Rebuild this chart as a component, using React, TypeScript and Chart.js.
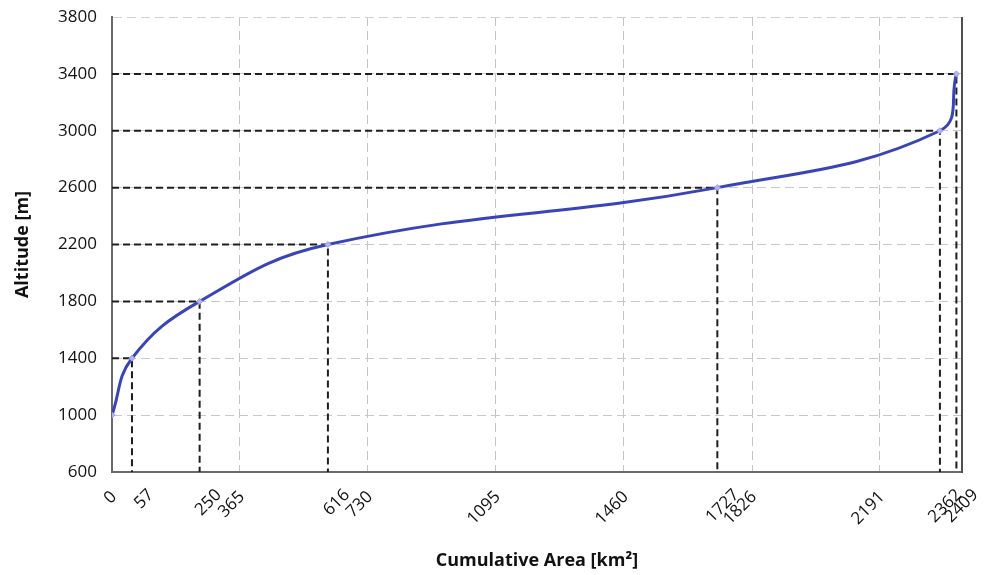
import React, { useEffect, useRef } from 'react';
import { Chart, registerables } from 'chart.js';

Chart.register(...registerables);

// ---- data ----
const areas = [0, 57, 250, 616, 1727, 2362, 2409];
const altitudes = [1000, 1400, 1800, 2200, 2600, 3000, 3400];
const xAxisTicks = [0, 365, 730, 1095, 1460, 1826, 2191];
const xPointTicks = [57, 250, 616, 1727, 2362, 2409];
const xGridValues = [365, 730, 1095, 1460, 1826, 2191];
const yTickValues = [600, 1000, 1400, 1800, 2200, 2600, 3000, 3400, 3800];
const xMin = 0;
const xMax = 2425;
const yMin = 600;
const yMax = 3800;

const frameBorder = {
  id: 'frameBorder',
  afterDatasetsDraw(chart: any) {
    const { ctx, chartArea } = chart;
    ctx.save();
    ctx.strokeStyle = '#505050';
    ctx.lineWidth = 2;
    ctx.beginPath();
    ctx.moveTo(chartArea.right, chartArea.top);
    ctx.lineTo(chartArea.right, chartArea.bottom + 1);
    ctx.stroke();
    ctx.restore();
  },
};

export default function App() {
  const canvasRef = useRef<HTMLCanvasElement | null>(null);

  useEffect(() => {
    document.body.style.margin = '0';
    const canvas = canvasRef.current;
    if (!canvas) return;

    const curve = areas.map((a, i) => ({ x: a, y: altitudes[i] }));
    const guides = areas.slice(1).map((a, k) => {
      const alt = altitudes[k + 1];
      return {
        type: 'scatter' as const,
        data: [
          { x: xMin, y: alt },
          { x: a, y: alt },
          { x: a, y: yMin },
        ],
        showLine: true,
        borderColor: '#1e1e1e',
        borderWidth: 2,
        borderDash: [7, 4],
        pointRadius: 0,
        tension: 0,
        order: 2,
      };
    });

    const tickFont = { family: 'Open Sans', size: 17 };

    const chart = new Chart(canvas, {
      type: 'scatter',
      data: {
        datasets: [
          {
            data: curve,
            showLine: true,
            borderColor: '#3a44b6',
            borderWidth: 3,
            tension: 0.42,
            pointStyle: 'rectRot',
            pointRadius: 3,
            pointBackgroundColor: '#b4b4f0',
            pointBorderColor: '#9a9ae6',
            pointBorderWidth: 1,
            order: 0,
          } as any,
          ...(guides as any[]),
        ],
      },
      options: {
        animation: false,
        responsive: false,
        maintainAspectRatio: false,
        layout: { padding: { top: 17, right: 27, left: 0, bottom: 0 } },
        plugins: {
          legend: { display: false },
          tooltip: { enabled: false },
        },
        scales: {
          xp: {
            type: 'linear',
            position: 'bottom',
            weight: -1,
            min: xMin,
            max: xMax,
            afterBuildTicks: (scale: any) => {
              scale.ticks = xPointTicks.map((v) => ({ value: v }));
            },
            afterFit: (scale: any) => {
              scale.height = 0;
              scale._computeLabelArea = () => undefined;
            },
            ticks: {
              autoSkip: false,
              minRotation: 45,
              maxRotation: 45,
              padding: 13,
              labelOffset: 19,
              color: '#111',
              font: tickFont,
              callback: (v: any) => String(v),
            },
            grid: { display: false, drawTicks: false },
            border: { display: false },
          },
          x: {
            type: 'linear',
            position: 'bottom',
            weight: 0,
            min: xMin,
            max: xMax,
            afterBuildTicks: (scale: any) => {
              scale.ticks = xAxisTicks.map((v) => ({ value: v }));
            },
            afterFit: (scale: any) => {
              scale.height = 103;
            },
            ticks: {
              autoSkip: false,
              minRotation: 45,
              maxRotation: 45,
              padding: 15,
              labelOffset: 2,
              color: '#111',
              font: tickFont,
              callback: (v: any) => String(v),
            },
            grid: {
              drawTicks: false,
              color: (ctx: any) =>
                ctx.tick && xGridValues.includes(ctx.tick.value) ? '#c4c4c4' : 'rgba(0,0,0,0)',
              lineWidth: 1,
            },
            border: { color: '#6a6a6a', width: 2, dash: [9, 5] },
            title: {
              display: true,
              text: 'Cumulative Area [km²]',
              color: '#111',
              font: { family: 'Open Sans', size: 18, weight: 'bold' },
              padding: { top: 0, bottom: 3 },
            },
          },
          y: {
            type: 'linear',
            min: yMin,
            max: yMax,
            afterBuildTicks: (scale: any) => {
              scale.ticks = yTickValues.map((v) => ({ value: v }));
            },
            afterFit: (scale: any) => {
              scale.width = 112;
              scale.paddingTop = 0;
              scale.paddingBottom = 0;
            },
            ticks: {
              padding: 15,
              color: '#111',
              font: { family: 'Open Sans', size: 17 },
              callback: (v: any) => String(v),
            },
            grid: {
              drawTicks: false,
              color: (ctx: any) =>
                ctx.tick && ctx.tick.value === yMax ? '#d0d0d0' : '#c8c8c8',
              lineWidth: 1,
            },
            border: { color: '#6a6a6a', width: 2, dash: [9, 5] },
            title: {
              display: true,
              text: 'Altitude [m]',
              color: '#111',
              font: { family: 'Open Sans', size: 18, weight: 'bold' },
              padding: { top: 12, bottom: 0 },
            },
          },
        },
      },
      plugins: [frameBorder],
    } as any);

    return () => {
      chart.destroy();
    };
  }, []);

  return (
    <div style={{ width: 989, height: 575, position: 'relative', background: '#fff' }}>
      <canvas ref={canvasRef} width={989} height={575} style={{ display: 'block' }} />
    </div>
  );
}
